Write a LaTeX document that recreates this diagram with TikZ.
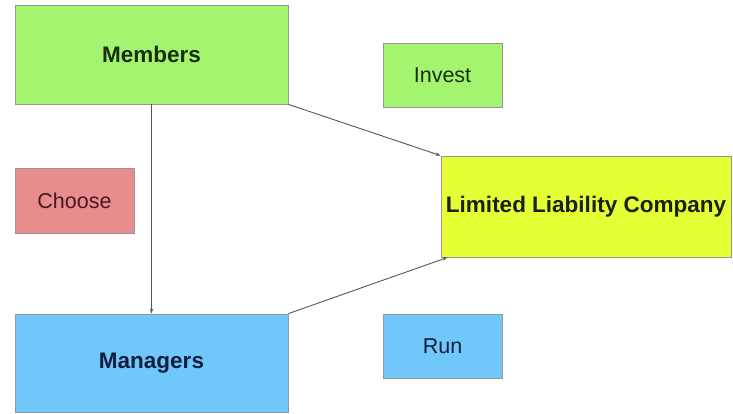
\documentclass[tikz,border=0pt]{standalone}
\usepackage{fontspec}
\setmainfont{Liberation Sans}
\usetikzlibrary{arrows.meta}
\definecolor{membergreen}{RGB}{164,244,112}
\definecolor{llcyellow}{RGB}{228,255,52}
\definecolor{choosered}{RGB}{232,140,142}
\definecolor{managerblue}{RGB}{112,200,250}
\definecolor{boxgrey}{RGB}{150,150,150}
\definecolor{edgegrey}{RGB}{85,85,90}

\begin{document}
\begin{tikzpicture}[x=1pt,y=-1pt,
  every node/.style={draw=boxgrey,line width=0.8pt,rectangle,inner sep=0pt,font=\fontsize{21.5}{24}\selectfont},
  bignode/.style={font=\fontsize{22.5}{26}\selectfont\bfseries},
  greennode/.style={fill=membergreen,text={rgb,255:red,25;green,45;blue,15}},
  bluenode/.style={fill=managerblue,text={rgb,255:red,15;green,30;blue,60}},
  rednode/.style={fill=choosered,text={rgb,255:red,70;green,25;blue,30}},
  yellownode/.style={fill=llcyellow,text={rgb,255:red,30;green,30;blue,10}},
  edge/.style={draw=edgegrey,line width=0.9pt,-{Stealth[length=5pt,width=3.5pt]}}
]
\useasboundingbox (0,0) rectangle (733,414);

% the boxes
\node[bignode,greennode,minimum width=273pt,minimum height=99pt] (members) at (151.5,54.5) {Members};
\node[greennode,minimum width=119pt,minimum height=64pt] (invest) at (442.5,75) {Invest};
\node[rednode,minimum width=119pt,minimum height=65pt] (choose) at (74.5,200.5) {Choose};
\node[bignode,yellownode,minimum width=290pt,minimum height=101pt] (llc) at (586,206.5) {Limited Liability Company};
\node[bignode,bluenode,minimum width=273pt,minimum height=98pt] (managers) at (151.5,363) {Managers};
\node[bluenode,minimum width=119pt,minimum height=64pt] (run) at (442.5,346) {Run};

% the edges
\draw[edge] (members.south) -- (managers.north);
\draw[edge] (members.south east) -- (llc.north west);
\draw[edge] (managers.north east) -- ([xshift=7pt]llc.south west);

\end{tikzpicture}
\end{document}
